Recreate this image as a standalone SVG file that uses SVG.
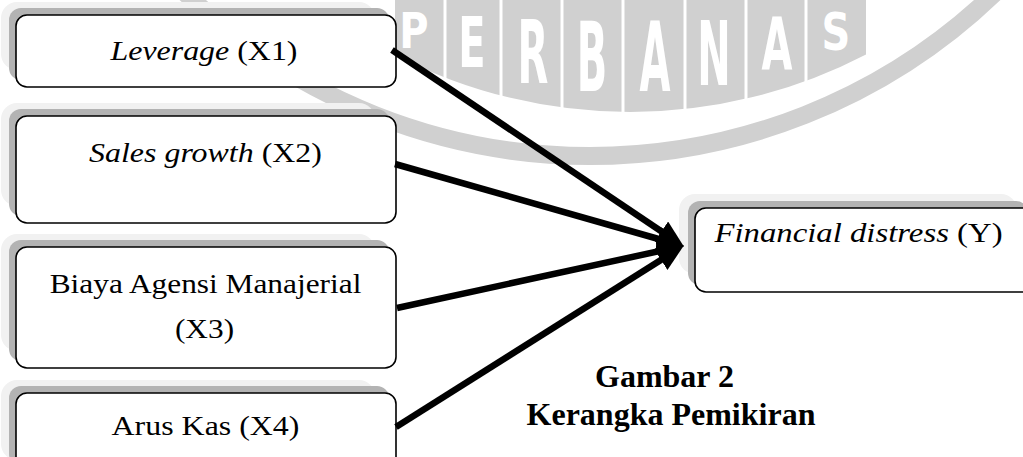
<svg xmlns="http://www.w3.org/2000/svg" width="1023" height="457" viewBox="0 0 1023 457">
<style>
.sh1{fill:#f1f1f1}
.sh2{fill:#b3b3b3}
.box{fill:#ffffff;stroke:#000000;stroke-width:1.6}
.t{font-family:"Liberation Serif","Times New Roman",serif;font-size:28px;fill:#000000;text-anchor:middle}
.i{font-style:italic}
.cap{font-family:"Liberation Serif","Times New Roman",serif;font-size:32px;font-weight:bold;fill:#000000;text-anchor:middle}
.wm{font-family:"DejaVu Sans",sans-serif;font-weight:bold;font-size:40px;fill:#ffffff;text-anchor:middle}
.conn{stroke:#000000;stroke-width:6.5;fill:none;marker-end:url(#ah)}
</style>
<defs>
<marker id="ah" markerUnits="userSpaceOnUse" markerWidth="30" markerHeight="26" refX="6" refY="12" orient="auto">
<path d="M0,0 L27,12 L0,24 Z" fill="#000000"/>
</marker>
</defs>
<rect width="1023" height="457" fill="#ffffff"/>
<g id="watermark">
<circle cx="590" cy="-428" r="584" fill="none" stroke="#d0d0d0" stroke-width="18"/>
<path d="M395,-5 H866 V54.4 A512,512 0 0 1 395,54.9 Z" fill="#d0d0d0"/>
<g stroke="#ffffff" stroke-width="3">
<line x1="445" y1="-5" x2="445" y2="90"/>
<line x1="501" y1="-5" x2="501" y2="110"/>
<line x1="562" y1="-5" x2="562" y2="120"/>
<line x1="623" y1="-5" x2="623" y2="120"/>
<line x1="685" y1="-5" x2="685" y2="120"/>
<line x1="746" y1="-5" x2="746" y2="110"/>
<line x1="806" y1="-5" x2="806" y2="100"/>
</g>
<text class="wm" transform="translate(414,48) scale(1,1.24)">P</text>
<text class="wm" transform="translate(472,67) scale(1,1.75)">E</text>
<text class="wm" transform="translate(533,83) scale(1,2.18)">R</text>
<text class="wm" transform="translate(592,91) scale(1,2.4)">B</text>
<text class="wm" transform="translate(655,91) scale(1,2.4)">A</text>
<text class="wm" transform="translate(714,85) scale(1,2.24)">N</text>
<text class="wm" transform="translate(777,70) scale(1,1.83)">A</text>
<text class="wm" transform="translate(836,50) scale(1,1.3)">S</text>
</g>
<g id="node-x1">
<rect class="sh1" x="1" y="2" width="374" height="68" rx="16"/>
<rect class="sh2" x="9" y="8" width="380" height="72" rx="12"/>
<rect class="box" x="16" y="15" width="380" height="72" rx="11"/>
<text class="t" transform="translate(204,60) scale(1.14,1)"><tspan class="i">Leverage</tspan> (X1)</text>
</g>
<g id="node-x2">
<rect class="sh1" x="1" y="103" width="374" height="103" rx="16"/>
<rect class="sh2" x="9" y="109" width="380" height="107" rx="12"/>
<rect class="box" x="16" y="116" width="380" height="107" rx="11"/>
<text class="t" transform="translate(205.5,162) scale(1.14,1)"><tspan class="i">Sales growth</tspan> (X2)</text>
</g>
<g id="node-x3">
<rect class="sh1" x="1" y="234" width="374" height="117" rx="16"/>
<rect class="sh2" x="9" y="240" width="380" height="121" rx="12"/>
<rect class="box" x="16" y="247" width="380" height="121" rx="11"/>
<text class="t" transform="translate(205.5,293) scale(1.12,1)">Biaya Agensi Manajerial</text>
<text class="t" transform="translate(204.5,338) scale(1.12,1)">(X3)</text>
</g>
<g id="node-x4">
<rect class="sh1" x="1" y="380" width="374" height="80" rx="16"/>
<rect class="sh2" x="9" y="386" width="380" height="80" rx="12"/>
<rect class="box" x="16" y="393" width="380" height="80" rx="11"/>
<text class="t" transform="translate(205.5,435) scale(1.14,1)">Arus Kas (X4)</text>
</g>
<g id="node-y">
<rect class="sh1" x="679" y="194" width="338" height="80" rx="16"/>
<rect class="sh2" x="688" y="201" width="340" height="84" rx="12"/>
<rect class="box" x="695" y="208" width="340" height="84" rx="11"/>
<text class="t" transform="translate(858.5,242) scale(1.17,1)"><tspan class="i">Financial distress</tspan> (Y)</text>
</g>
<g id="connectors">
<line class="conn" x1="392" y1="50" x2="666.4" y2="234.8"/>
<line class="conn" x1="395" y1="164" x2="663.8" y2="240.5"/>
<line class="conn" x1="397" y1="308" x2="663.5" y2="250.2"/>
<line class="conn" x1="396" y1="427" x2="666.1" y2="256.7"/>
</g>
<g id="caption">
<text class="cap" x="664.5" y="387">Gambar 2</text>
<text class="cap" x="671" y="425">Kerangka Pemikiran</text>
</g>
</svg>
